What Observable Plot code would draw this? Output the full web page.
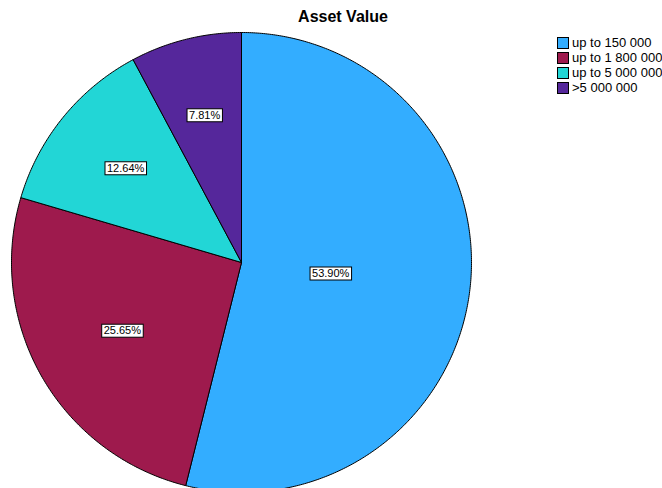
<!DOCTYPE html>
<html>
<head>
<meta charset="utf-8">
<script src="https://cdn.jsdelivr.net/npm/d3@7"></script>
<script src="https://cdn.jsdelivr.net/npm/@observablehq/plot@0.6"></script>
<style>
  body { margin: 0; background: #fff; font-family: "Liberation Sans", Arial, sans-serif; }
  #wrap { position: relative; width: 662px; height: 488px; overflow: hidden; }
  #title { position: absolute; top: 8px; left: 343px; transform: translateX(-50%); font-weight: bold; font-size: 16px; color: #000; white-space: nowrap; }
  #legend { position: absolute; left: 557px; top: 35px; font-size: 13px; color: #000; white-space: nowrap; }
  .item { display: flex; align-items: center; height: 15px; }
  .sw { width: 12px; height: 12px; border: 1px solid #000; box-sizing: border-box; margin-right: 3px; flex: none; }
</style>
</head>
<body>
<div id="wrap">
  <div id="chart"></div>
  <div id="title">Asset Value</div>
  <div id="legend"></div>
</div>
<script>
const categories = ["up to 150 000", "up to 1 800 000", "up to 5 000 000", ">5 000 000"];
const percents = [53.90, 25.65, 12.64, 7.81];
const colors = ["#33adff", "#9e1a4d", "#22d6d6", "#55279b"];

const W = 662, H = 488, R = 230, cx = 241, cy = 262;

const data = categories.map((c, i) => ({category: c, value: percents[i]}));
const arcs = d3.pie().sort(null).value(d => d.value)(data);

// polygon points for each slice
const pts = [];
arcs.forEach(a => {
  const key = a.data.category;
  pts.push({key, x: 0, y: 0});
  const n = Math.max(2, Math.ceil((a.endAngle - a.startAngle) / (Math.PI / 360)));
  for (let k = 0; k <= n; k++) {
    const t = a.startAngle + (a.endAngle - a.startAngle) * k / n;
    pts.push({key, x: Math.sin(t), y: Math.cos(t)});
  }
  pts.push({key, x: 0, y: 0});
});

// labels at sector centroid
const labels = arcs.map(a => {
  const th = a.endAngle - a.startAngle;
  const mid = (a.startAngle + a.endAngle) / 2;
  const r = 4 * Math.sin(th / 2) / (3 * th);
  return {x: r * Math.sin(mid), y: r * Math.cos(mid), text: d3.format(".2f")(a.data.value) + "%"};
});

const plot = Plot.plot({
  width: W, height: H,
  margin: 0,
  x: {domain: [-cx / R, (W - cx) / R], axis: null},
  y: {domain: [-(H - cy) / R, cy / R], axis: null},
  color: {domain: categories, range: colors},
  style: {fontFamily: "'Liberation Sans', Arial, sans-serif", background: "white"},
  marks: [
    Plot.line(pts, {x: "x", y: "y", z: "key", fill: "key", stroke: "black", strokeWidth: 1, strokeLinejoin: "round"}),
    Plot.text(labels, {x: "x", y: "y", text: "text", fontSize: 11, fill: "black", className: "pielabels"})
  ]
});
document.getElementById("chart").appendChild(plot);

// white boxes behind labels
d3.select(plot).selectAll(".pielabels text").each(function() {
  const b = this.getBBox();
  const tr = this.getAttribute("transform");
  const rect = document.createElementNS("http://www.w3.org/2000/svg", "rect");
  rect.setAttribute("x", b.x - 2);
  rect.setAttribute("y", b.y);
  rect.setAttribute("width", b.width + 4);
  rect.setAttribute("height", b.height + 1);
  rect.setAttribute("fill", "white");
  rect.setAttribute("stroke", "black");
  rect.setAttribute("stroke-width", 1);
  if (tr) rect.setAttribute("transform", tr);
  this.parentNode.insertBefore(rect, this);
});

// legend
const lg = d3.select("#legend");
categories.forEach((c, i) => {
  const it = lg.append("div").attr("class", "item");
  it.append("div").attr("class", "sw").style("background", colors[i]);
  it.append("span").text(c);
});
</script>
</body>
</html>
